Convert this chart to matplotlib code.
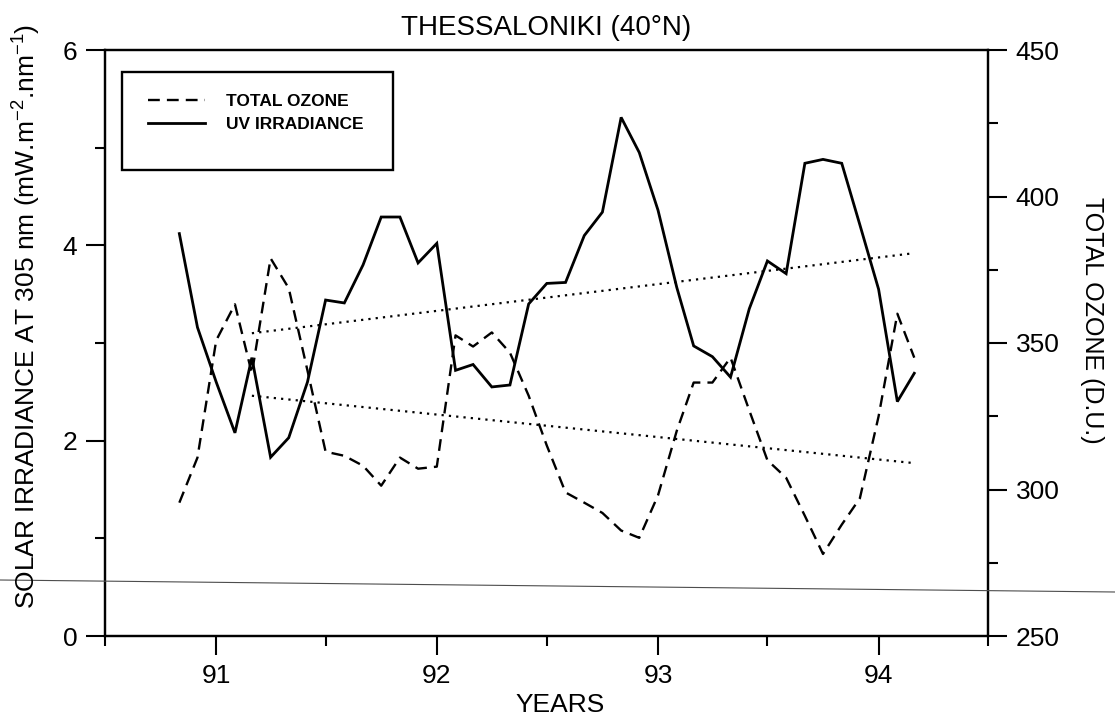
import matplotlib
matplotlib.use("Agg")
import matplotlib.pyplot as plt
import matplotlib.dates as mdates
from matplotlib.ticker import MultipleLocator
from matplotlib.patches import Rectangle
from matplotlib.lines import Line2D
import pandas as pd

plt.rcParams["font.family"] = ["Liberation Sans", "DejaVu Sans"]
plt.rcParams["mathtext.default"] = "regular"

# monthly means, Nov 1990 .. Mar 1994
months = pd.date_range("1990-11-01", "1994-03-01", freq="MS")

uv_irradiance = [4.12, 3.16, 2.60, 2.08, 2.85, 1.83, 2.03, 2.60, 3.44, 3.41,
                 3.80, 4.29, 4.29, 3.82, 4.02, 2.72, 2.78, 2.55, 2.57, 3.40,
                 3.61, 3.62, 4.10, 4.34, 5.31, 4.95, 4.36, 3.57, 2.97, 2.86,
                 2.65, 3.35, 3.84, 3.71, 4.84, 4.88, 4.84, 4.21, 3.55, 2.40,
                 2.69]

total_ozone = [295.5, 310.9, 350.9, 363.2, 339.6, 378.9, 368.7, 340.6, 312.9, 311.5,
               308.1, 301.3, 310.9, 307.1, 307.8, 352.6, 348.8, 353.6, 346.7, 332.0,
               315.0, 299.0, 295.5, 292.0, 286.0, 283.5, 298.0, 320.0, 336.5, 336.5,
               345.0, 327.0, 310.0, 304.0, 291.0, 278.0, 288.0, 297.0, 325.0, 360.0,
               345.0]

# linear trends (start / end)
trend_dates = pd.to_datetime(["1991-03-01", "1994-03-01"])
uv_trend = [3.10, 3.92]
ozone_trend = [332.0, 309.0]

W, H = 1115, 724
fig = plt.figure(figsize=(W / 100, H / 100), dpi=100)
ax = fig.add_axes([105 / W, 1 - 636 / H, 883 / W, 586 / H])
ax2 = ax.twinx()

l_uv, = ax.plot(months, uv_irradiance, color="black", lw=2.0, solid_joinstyle="miter")
ax.plot(trend_dates, uv_trend, color="black", lw=1.6, linestyle=(0, (1, 2.3)))

l_oz, = ax2.plot(months, total_ozone, color="black", lw=1.7, linestyle=(0, (5, 3)))
ax2.plot(trend_dates, ozone_trend, color="black", lw=1.6, linestyle=(0, (1, 2.3)))

ax.set_xlim(pd.Timestamp("1990-07-01"), pd.Timestamp("1994-07-01"))
ax.xaxis.set_major_locator(mdates.YearLocator(1, month=1, day=1))
ax.xaxis.set_major_formatter(mdates.DateFormatter("%y"))
ax.xaxis.set_minor_locator(mdates.MonthLocator(bymonth=7))

ax.set_ylim(0, 6)
ax.yaxis.set_major_locator(MultipleLocator(2))
ax.yaxis.set_minor_locator(MultipleLocator(1))
ax2.set_ylim(250, 450)
ax2.yaxis.set_major_locator(MultipleLocator(50))
ax2.yaxis.set_minor_locator(MultipleLocator(25))

for a in (ax, ax2):
    a.tick_params(which="major", direction="out", length=14, width=1.5, labelsize=19, pad=6)
    a.tick_params(which="minor", direction="out", length=7, width=1.5)
    for s in a.spines.values():
        s.set_linewidth(1.6)
ax.tick_params(right=False, top=False, which="both")

ax.set_title("THESSALONIKI (40\u00b0N)", fontsize=20, pad=11)
fig.text(27 / W, 1 - 316 / H, "SOLAR IRRADIANCE AT 305 nm (mW.m$^{-2}$.nm$^{-1}$)",
         rotation=90, ha="center", va="center", fontsize=19)
fig.text(1092 / W, 1 - 320 / H, "TOTAL OZONE (D.U.)", rotation=270,
         ha="center", va="center", fontsize=18)
fig.text(560 / W, 1 - 705 / H, "YEARS", ha="center", va="center", fontsize=19)

# legend box
ax2.add_patch(Rectangle((0.019, 0.795), 0.307, 0.167, transform=ax2.transAxes,
                        facecolor="white", edgecolor="black", lw=1.7, zorder=5))
leg = ax2.legend([l_oz, l_uv], ["TOTAL OZONE", "UV IRRADIANCE"], loc="upper left",
                 bbox_to_anchor=(0.039, 0.94), frameon=False, borderpad=0,
                 prop={"size": 12.5, "weight": "bold"}, handlelength=3.3,
                 handletextpad=1.2, labelspacing=0.45)
leg.set_zorder(6)

# scanner streak across the page
fig.add_artist(Line2D([0, 1], [1 - 580 / H, 1 - 592 / H], transform=fig.transFigure,
                      color="0.3", lw=0.8))

fig.savefig("out.png", dpi=100)
print("saved out.png")
